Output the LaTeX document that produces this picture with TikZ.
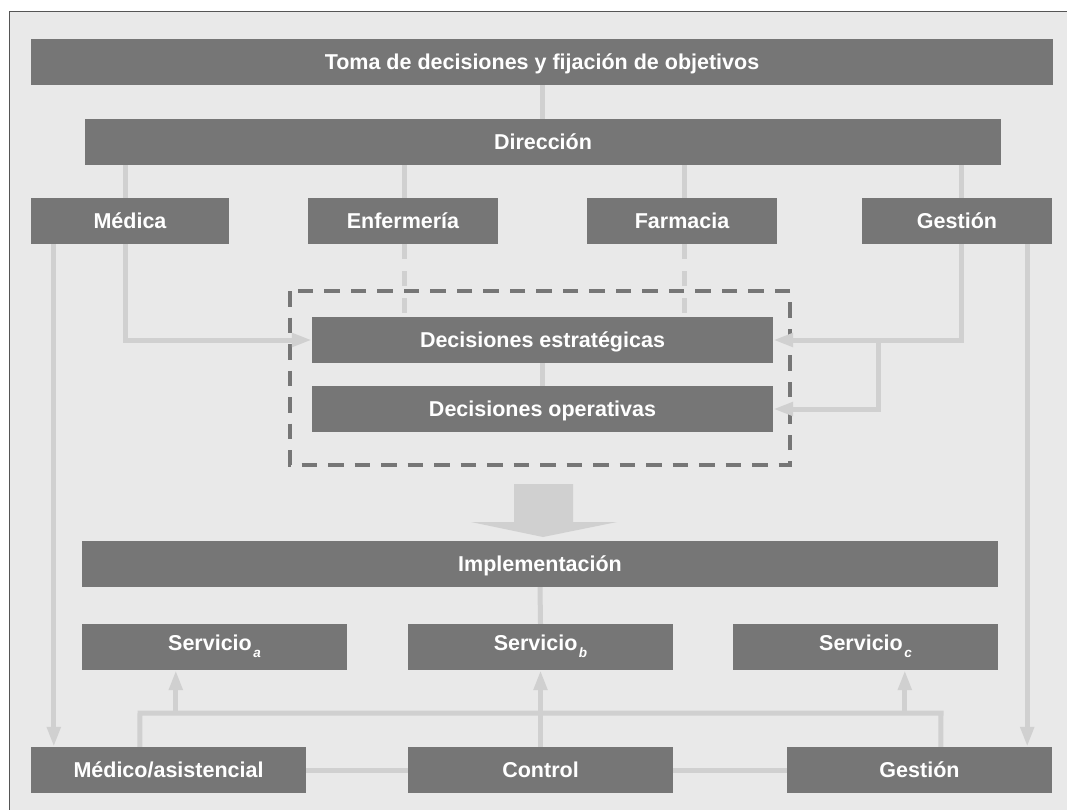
\documentclass[tikz,border=0pt]{standalone}
\usepackage{fontspec}
\setmainfont{Liberation Sans}
\usetikzlibrary{arrows.meta}
\definecolor{griscaja}{HTML}{767676}
\definecolor{fondo}{HTML}{E9E9E9}
\definecolor{linea}{HTML}{D0D0D0}
\definecolor{marco}{HTML}{555555}
\newcommand\subind[1]{\kern1.5pt\smash{\raisebox{-7pt}{\fontsize{13.5}{14}\selectfont\itshape #1}}}

\begin{document}
\begin{tikzpicture}[x=1pt,y=-1pt,
  caja/.style={fill=griscaja,text=white,font=\fontsize{21.5}{24}\selectfont\bfseries,
    minimum height=46pt,inner sep=0pt,text height=15.5pt,text depth=0pt},
  servicio/.style={caja,minimum width=265pt,text depth=8pt},
  con/.style={draw=linea,line width=5pt},
  flecha/.style={con,-{Triangle[length=20pt,width=13pt]}},
  discont/.style={con,dash pattern=on 15pt off 12pt}]
\useasboundingbox (0,0) rectangle (1067,810);
\fill[fondo] (9,12) rectangle (1067,810);
\draw[marco,line width=1pt] (9,810) -- (9,12) -- (1067,12);

\node[caja,minimum width=1022pt] (toma) at (542,62) {Toma de decisiones y fijación de objetivos};
\node[caja,minimum width=916pt] (direccion) at (543,142) {Dirección};
\node[caja,minimum width=198pt] (medica) at (130,221) {Médica};
\node[caja,minimum width=190pt] (enfermeria) at (403,221) {Enfermería};
\node[caja,minimum width=190pt] (farmacia) at (682,221) {Farmacia};
\node[caja,minimum width=190pt] (gestion) at (957,221) {Gestión};

\draw[griscaja,line width=4.5pt,dash pattern=on 15.5pt off 11pt] (290,291) rectangle (790,465);
\node[caja,minimum width=461pt] (estrat) at (542.5,340) {Decisiones estratégicas};
\node[caja,minimum width=461pt] (operat) at (542.5,409) {Decisiones operativas};

\node[caja,minimum width=916pt] (implem) at (540,564) {Implementación};
\node[servicio] (serva) at (214.5,647) {Servicio\subind{a}};
\node[servicio] (servb) at (540.5,647) {Servicio\subind{b}};
\node[servicio] (servc) at (865.5,647) {Servicio\subind{c}};
\node[caja,minimum width=275pt] (medasis) at (168.5,770) {Médico/asistencial};
\node[caja,minimum width=265pt] (control) at (540.5,770) {Control};
\node[caja,minimum width=265pt] (gestb) at (919.5,770) {Gestión};

% jerarquia superior
\draw[con] (toma.south) -- (toma.south |- direccion.north);
\draw[con] ([xshift=-5pt]medica.north) -- ([xshift=-5pt]medica.north |- direccion.south);
\draw[con] ([xshift=1pt]enfermeria.north) -- ([xshift=1pt]enfermeria.north |- direccion.south);
\draw[con] ([xshift=2pt]farmacia.north) -- ([xshift=2pt]farmacia.north |- direccion.south);
\draw[con] ([xshift=4pt]gestion.north) -- ([xshift=4pt]gestion.north |- direccion.south);
\draw[discont] ([xshift=1pt]enfermeria.south) -- ([xshift=1pt]enfermeria.south |- estrat.north);
\draw[discont] ([xshift=2pt]farmacia.south) -- ([xshift=2pt]farmacia.south |- estrat.north);
\draw[con] (estrat.south) -- (operat.north);

\draw[flecha] ([xshift=-5pt]medica.south) |- (estrat.west);
\draw[flecha] ([xshift=4pt]gestion.south) |- (estrat.east);
\coordinate (rama) at ([xshift=105pt]estrat.east);
\draw[flecha] (rama) |- (operat.east);
\draw[flecha] ([xshift=23pt]medica.south west) -- ([xshift=23pt]medasis.north west);
\draw[flecha] ([xshift=-25pt]gestion.south east) -- ([xshift=-25pt]gestb.north east);

% flecha gruesa
\fill[linea] (514,484) -- (573,484) -- (573,522) -- (617,522) -- (543,537)
  -- (471,522) -- (514,522) -- cycle;

% nivel inferior
\draw[con] (implem.south) -- (servb.north);
\coordinate (busizq) at (140,713);
\coordinate (busder) at (941,713);
\draw[con] ([xshift=109pt]medasis.north west) -- (busizq) -- (busder)
  -- ([xshift=154pt]gestb.north west);
\coordinate (pa) at ([xshift=94pt]serva.south west);
\coordinate (pc) at ([xshift=172pt]servc.south west);
\draw[flecha] (pa |- busizq) -- (pa);
\draw[flecha] (control.north) -- (servb.south);
\draw[flecha] (pc |- busder) -- (pc);
\draw[con] (medasis.east) -- (control.west);
\draw[con] (control.east) -- (gestb.west);
\end{tikzpicture}
\end{document}
